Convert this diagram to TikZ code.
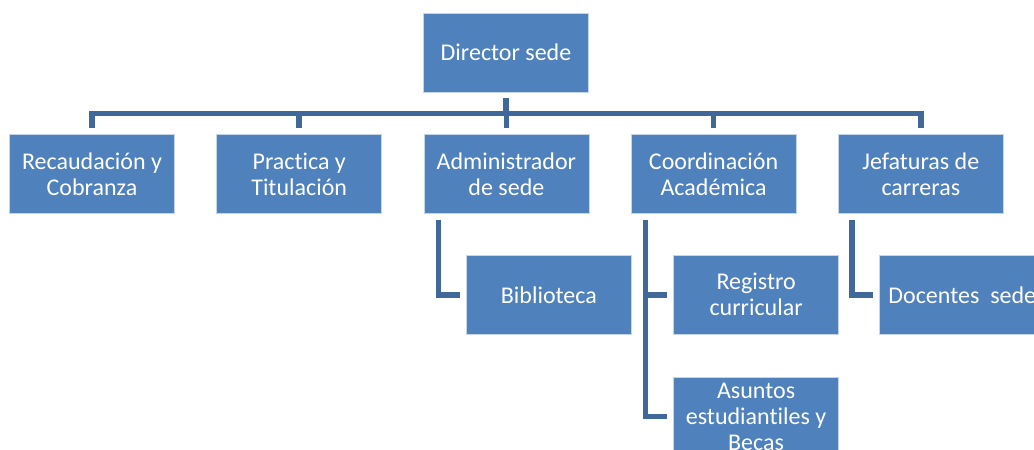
\documentclass[tikz,border=0pt]{standalone}
\usepackage{fontspec}
\setmainfont[Ligatures=NoCommon]{Carlito}
\usetikzlibrary{positioning,calc}
\definecolor{boxblue}{HTML}{4F81BD}
\definecolor{boxrim}{HTML}{C6D6EA}
\definecolor{lineblue}{HTML}{41689A}
\tikzset{
  unit/.style={rectangle,fill=boxblue,draw=boxrim,line width=0.8pt,text=white,align=center,
    minimum width=165pt,minimum height=79pt,inner sep=1pt,font=\fontsize{24}{26}\selectfont},
  link/.style={draw=lineblue,line width=5.5pt,shorten <=6pt,shorten >=6pt},
}

\begin{document}
\begin{tikzpicture}[x=1pt,y=1pt,node distance=41.4pt]
\useasboundingbox (0,0) rectangle (1034,-450);
% ---- Level 0 ----
\node[unit] (dir) at (506,-52.5) {Director sede};
% ---- Level 1 ----
\node[unit] (rec) at (92,-174) {Recaudación y\\Cobranza};
\node[unit,right=of rec] (pra) {Practica y\\Titulación};
\node[unit,right=of pra] (adm) {Administrador\\de sede};
\node[unit,right=of adm] (coo) {Coordinación\\Académica};
\node[unit,right=of coo] (jef) {Jefaturas de\\carreras};
\coordinate (bar) at ($(dir.south)+(0,-21)$);
\draw[link] (rec.north) |- (bar) -| (jef.north);
\draw[link,shorten >=0pt] (dir.south) -- (bar);
\foreach \k in {pra,adm,coo}
  \draw[link,shorten <=0pt] (bar -| \k.north) -- (\k.north);

% ---- Level 2 ----
\node[unit,anchor=north west] (bib) at ($(adm.south west)+(42.5,-41)$) {Biblioteca};
\node[unit,anchor=north west] (reg) at ($(coo.south west)+(42.5,-41)$) {Registro\\curricular};
\node[unit,below=42pt of reg] (asu) {Asuntos\\estudiantiles y\\Becas};
\node[unit,anchor=north west] (doc) at ($(jef.south west)+(41.5,-41)$) {Docentes\ \ sede};
\coordinate (admleg) at ($(adm.south west)+(15,0)$);
\coordinate (cooleg) at ($(coo.south west)+(15,0)$);
\coordinate (jefleg) at ($(jef.south west)+(14,0)$);
\draw[link] (admleg) |- (bib.west);
\draw[link] (cooleg) |- (reg.west);
\draw[link] (cooleg) |- (asu.west);
\draw[link] (jefleg) |- (doc.west);
\end{tikzpicture}
\end{document}
